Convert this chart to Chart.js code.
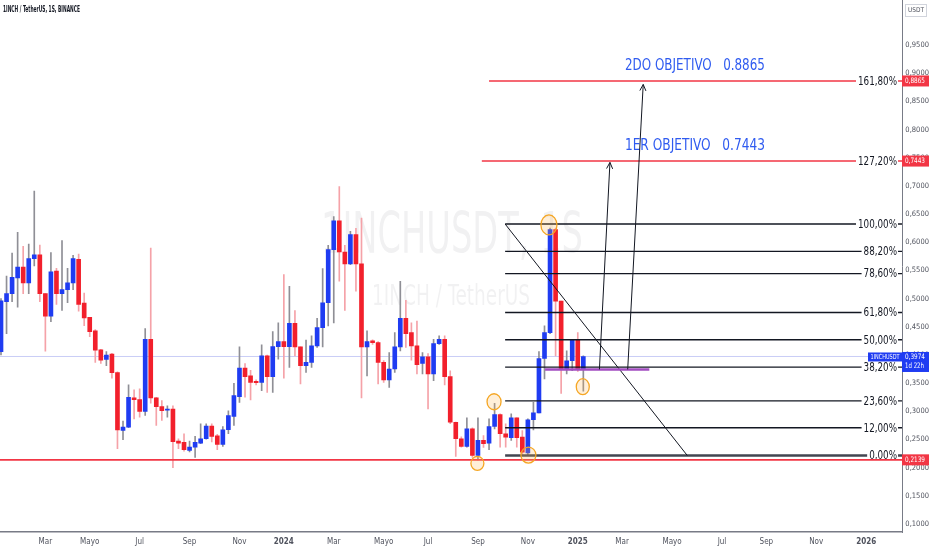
<!DOCTYPE html>
<html>
<head>
<meta charset="utf-8">
<title>1INCHUSDT 1S</title>
<script src="https://cdn.jsdelivr.net/npm/chart.js@4.4.1/dist/chart.umd.min.js"></script>
<style>
  html, body { margin: 0; padding: 0; background: #ffffff; }
  #myChart { display: block; }
</style>
</head>
<body>
<canvas id="myChart" width="932" height="550"></canvas>
<script>
// velas semanales 1INCH/USDT, primera vela: semana del 9 ene 2023
var openP = [0.406,0.4945,0.509,0.537,0.556,0.528,0.571,0.578,0.509,0.469,
  0.549,0.509,0.516,0.528,0.570,0.492,0.467,0.443,0.409,0.392,
  0.4016,0.369,0.266,0.272,0.324,0.321,0.300,0.428,0.324,0.3085,
  0.302,0.304,0.247,0.2449,0.2307,0.2366,0.2437,0.2514,0.2737,0.2567,
  0.2413,0.2673,0.2908,0.3261,0.377,0.363,0.3532,0.3514,0.3986,0.3615,
  0.415,0.4239,0.415,0.4563,0.4145,0.381,0.3868,0.4163,0.4486,0.4928,
  0.587,0.6383,0.5829,0.5617,0.6137,0.5617,0.4145,0.425,0.422,0.3868,
  0.3557,0.3751,0.4145,0.4652,0.4398,0.4163,0.385,0.3968,0.3663,0.4203,
  0.428,0.3615,0.2807,0.2514,0.2378,0.269,0.2219,0.2484,0.2437,0.2731,
  0.2943,0.2602,0.2531,0.2886,0.2543,0.226,0.285,0.2973,0.3938,0.4398,
  0.6226,0.4958,0.3751,0.3898,0.4263,0.3751];
var highP = [0.500,0.540,0.581,0.618,0.593,0.597,0.691,0.595,0.509,0.582,
  0.554,0.603,0.554,0.577,0.579,0.510,0.467,0.445,0.410,0.406,
  0.403,0.370,0.2825,0.347,0.338,0.340,0.447,0.590,0.325,0.319,
  0.3097,0.310,0.2514,0.260,0.247,0.2555,0.278,0.278,0.278,0.259,
  0.273,0.301,0.3497,0.4145,0.385,0.373,0.356,0.418,0.400,0.4415,
  0.457,0.543,0.522,0.479,0.4145,0.4263,0.434,0.465,0.5535,0.5947,
  0.6459,0.699,0.5947,0.6194,0.625,0.643,0.4428,0.427,0.4239,0.390,
  0.4045,0.4398,0.531,0.497,0.457,0.4604,0.4045,0.4027,0.428,0.434,
  0.434,0.372,0.281,0.2548,0.2886,0.2708,0.2886,0.257,0.2867,0.3143,
  0.2955,0.278,0.2955,0.2886,0.266,0.2867,0.316,0.406,0.4516,0.6253,
  0.6253,0.4958,0.4074,0.428,0.4398,0.3986];
var lowP = [0.400,0.438,0.4945,0.485,0.509,0.509,0.558,0.4945,0.407,0.459,
  0.490,0.479,0.493,0.516,0.478,0.452,0.4327,0.387,0.385,0.381,
  0.359,0.2337,0.2497,0.271,0.2867,0.2896,0.2926,0.3143,0.275,0.2837,
  0.2896,0.2002,0.2337,0.2295,0.2278,0.218,0.2425,0.2505,0.2455,0.232,
  0.2378,0.2602,0.275,0.316,0.325,0.3204,0.347,0.3367,0.3337,0.3337,
  0.3928,0.359,0.378,0.3986,0.3486,0.369,0.378,0.4133,0.4145,0.4516,
  0.457,0.531,0.479,0.5605,0.5134,0.324,0.363,0.419,0.3486,0.3514,
  0.3426,0.369,0.4074,0.4133,0.391,0.3663,0.3663,0.3044,0.3544,0.419,
  0.347,0.278,0.2201,0.2366,0.2366,0.218,0.2139,0.236,0.232,0.269,
  0.2366,0.2366,0.2484,0.2366,0.2237,0.2219,0.267,0.2973,0.3574,0.438,
  0.3986,0.332,0.3663,0.372,0.371,0.3356];
var closeP = [0.496,0.509,0.538,0.556,0.528,0.571,0.578,0.509,0.469,0.5475,
  0.509,0.516,0.528,0.571,0.490,0.466,0.4415,0.4087,0.391,0.400,
  0.3686,0.267,0.272,0.325,0.3205,0.300,0.428,0.324,0.3085,0.301,
  0.304,0.246,0.2437,0.232,0.2366,0.2449,0.2514,0.2737,0.2555,0.2413,
  0.2673,0.2926,0.328,0.377,0.3615,0.3514,0.351,0.3986,0.3615,0.415,
  0.4239,0.415,0.4563,0.4145,0.381,0.3868,0.4163,0.4486,0.4928,0.587,
  0.6383,0.5829,0.5617,0.6137,0.5617,0.4145,0.4239,0.422,0.3868,0.3557,
  0.3751,0.4145,0.4652,0.438,0.4163,0.3827,0.3968,0.3663,0.4203,0.428,
  0.3615,0.2807,0.2514,0.2378,0.269,0.2219,0.2484,0.2426,0.2731,0.2943,
  0.2602,0.2543,0.2886,0.2531,0.2277,0.285,0.2973,0.3938,0.4398,0.6226,
  0.4958,0.3751,0.3898,0.4263,0.3751,0.3974];

var firstWeek = Date.UTC(2023, 0, 9);
var monthTicks = [['Mar',2023,2],['Mayo',2023,4],['Jul',2023,6],['Sep',2023,8],['Nov',2023,10],
  ['2024',2024,0],['Mar',2024,2],['Mayo',2024,4],['Jul',2024,6],['Sep',2024,8],['Nov',2024,10],
  ['2025',2025,0],['Mar',2025,2],['Mayo',2025,4],['Jul',2025,6],['Sep',2025,8],['Nov',2025,10],
  ['2026',2026,0]];
var priceTicks = [0.10,0.15,0.20,0.25,0.30,0.35,0.40,0.45,0.50,0.55,0.60,0.65,0.70,0.75,0.80,0.85,0.90,0.95];

// fibonacci trazado por el autor
var fibLow = 0.2215, fibHigh = 0.6325;
var fibLevels = [0, 0.12, 0.236, 0.382, 0.5, 0.618, 0.786, 0.882, 1];
var fibTargets = [1.272, 1.618];
var targetNames = ['1ER OBJETIVO', '2DO OBJETIVO'];
var lastPrice = 0.3974, lowLine = 0.2139, supportLine = 0.3745;

var FONT = "'Liberation Sans Narrow', 'DejaVu Sans Condensed', 'Liberation Sans', sans-serif";
var BLUE = '#1f3cf2', RED = '#f2202c';

function weekOf(y, m) {
  // primera vela semanal dentro del mes
  return Math.ceil((Date.UTC(y, m, 1) - firstWeek) / (7 * 86400000));
}
function fibPrice(l) { return fibLow + l * (fibHigh - fibLow); }
function fmt(v) { return v.toFixed(4).replace('.', ','); }

var wickData = [], bodyData = [], wickColors = [], bodyColors = [];
for (var i = 0; i < openP.length; i++) {
  var up = closeP[i] >= openP[i];
  wickData.push({x: i, y: [lowP[i], highP[i]]});
  bodyData.push({x: i, y: [openP[i], closeP[i]]});
  wickColors.push(up ? '#8f8f96' : '#f5a2a8');
  bodyColors.push(up ? BLUE : RED);
}

function squeezeText(ctx, txt, x, y, size, color, align, width, weight) {
  ctx.save();
  ctx.font = (weight || 'normal') + ' ' + size + 'px ' + FONT;
  var w = ctx.measureText(txt).width;
  var s = width ? width / w : 1;
  ctx.translate(x, y);
  ctx.scale(s, 1);
  ctx.fillStyle = color;
  ctx.textAlign = align;
  ctx.textBaseline = 'middle';
  ctx.fillText(txt, 0, 0);
  ctx.restore();
  return w * s;
}

function line(ctx, x1, y1, x2, y2, color, lw) {
  ctx.save();
  ctx.strokeStyle = color;
  ctx.lineWidth = lw;
  ctx.beginPath();
  ctx.moveTo(x1, y1);
  ctx.lineTo(x2, y2);
  ctx.stroke();
  ctx.restore();
}

function arrow(ctx, x1, y1, x2, y2) {
  line(ctx, x1, y1, x2, y2, '#131722', 1);
  var a = Math.atan2(y2 - y1, x2 - x1);
  for (var k = -1; k <= 1; k += 2) {
    var b = a + Math.PI + k * 0.45;
    line(ctx, x2, y2, x2 + 7 * Math.cos(b), y2 + 7 * Math.sin(b), '#131722', 1);
  }
}

var overlay = {
  id: 'overlay',
  beforeDatasetsDraw: function (chart) {
    var ctx = chart.ctx, a = chart.chartArea;
    var cx = (a.left + a.right) / 2;
    squeezeText(ctx, '1INCHUSDT, 1S', cx + 1, a.top + 238, 57, 'rgba(20,22,34,0.06)', 'center', 262);
    squeezeText(ctx, '1INCH / TetherUS', cx, a.top + 298, 28, 'rgba(20,22,34,0.06)', 'center', 158);
    var yl = chart.scales.y.getPixelForValue(lastPrice);
    line(ctx, a.left, yl, a.right, yl, '#c9cdf6', 1);
  },
  afterDatasetsDraw: function (chart) {
    var ctx = chart.ctx, a = chart.chartArea;
    var X = function (v) { return chart.scales.x.getPixelForValue(v); };
    var Y = function (v) { return chart.scales.y.getPixelForValue(v); };

    // lineas del fibonacci
    ctx.save();
    ctx.font = '13px ' + FONT;
    var squeeze = 39 / ctx.measureText('100,00%').width;
    ctx.restore();
    fibLevels.forEach(function (l) {
      var y = Y(fibPrice(l));
      if (l === 0) line(ctx, X(90.9), y, a.right, y, '#434651', 2.5);
      else line(ctx, X(90.9), y, a.right, y, '#131722', 1.4);
    });
    // diagonal del fibonacci
    line(ctx, X(90.9), Y(fibHigh), X(123.75), Y(fibLow), '#131722', 1);

    // objetivos
    var starts = [86.7, 88.0];
    fibTargets.forEach(function (l, k) {
      var v = fibPrice(l), y = Y(v);
      line(ctx, X(starts[k]), y, a.right, y, '#f23645', 1.4);
      squeezeText(ctx, targetNames[k] + '   ' + v.toFixed(4), X(112.5), y - 15, 16.5, '#2f5bf0', 'left', 140);
    });

    // etiquetas de niveles
    fibLevels.concat(fibTargets).forEach(function (l) {
      var y = Y(fibPrice(l));
      var txt = (l * 100).toFixed(2).replace('.', ',') + '%';
      ctx.save();
      ctx.font = '13px ' + FONT;
      var w = ctx.measureText(txt).width * squeeze;
      ctx.fillStyle = '#ffffff';
      ctx.fillRect(a.right - 5 - w - 2, y - 7, w + 3, 14);
      ctx.restore();
      squeezeText(ctx, txt, a.right - 5, y + 0.5, 13, '#131722', 'right', w);
    });

    // soporte morado
    line(ctx, X(98.1), Y(supportLine), X(116.9), Y(supportLine), '#a24cc0', 2.5);

    // minimo
    line(ctx, a.left, Y(lowLine), a.right, Y(lowLine), '#f23645', 1.6);

    // flechas
    arrow(ctx, X(107.9), Y(supportLine), X(109.8), Y(0.7419));
    arrow(ctx, X(113.0), Y(supportLine), X(115.8), Y(0.8803));

    // circulos
    var circles = [[98.8, 0.6310, 8, 10], [104.9, 0.3437, 6.5, 8], [88.9, 0.3170, 7, 8],
      [85.9, 0.2077, 6.5, 7], [95.1, 0.2224, 7.5, 8]];
    circles.forEach(function (c) {
      ctx.save();
      ctx.beginPath();
      ctx.ellipse(X(c[0]), Y(c[1]), c[2], c[3], 0, 0, Math.PI * 2);
      ctx.fillStyle = 'rgba(255,183,77,0.22)';
      ctx.fill();
      ctx.strokeStyle = '#f5a623';
      ctx.lineWidth = 1.3;
      ctx.stroke();
      ctx.restore();
    });
  },
  afterDraw: function (chart) {
    var ctx = chart.ctx, a = chart.chartArea;
    var Y = function (v) { return chart.scales.y.getPixelForValue(v); };
    squeezeText(ctx, '1INCH / TetherUS, 1S, BINANCE', 3, 10, 8, '#131722', 'left', 77, 'bold');

    // caja USDT
    ctx.save();
    ctx.strokeStyle = '#d1d4dc';
    ctx.lineWidth = 1;
    ctx.strokeRect(a.right + 3.5, 4.5, 21, 12);
    ctx.restore();
    squeezeText(ctx, 'USDT', a.right + 14, 10.5, 6.5, '#50535e', 'center');

    // etiquetas de precio en el eje
    var redTags = [fibPrice(fibTargets[1]), fibPrice(fibTargets[0]), lowLine];
    redTags.forEach(function (v) {
      var y = Y(v);
      ctx.fillStyle = '#f23645';
      ctx.fillRect(a.right, y - 5.5, 27, 11);
      squeezeText(ctx, fmt(v), a.right + 3, y, 7.5, '#ffffff', 'left', 20);
    });
    var yl = Y(lastPrice);
    ctx.fillStyle = BLUE;
    ctx.fillRect(a.right - 34, yl - 4, 34, 9);
    ctx.fillRect(a.right, yl - 4.5, 27, 20);
    squeezeText(ctx, '1INCHUSDT', a.right - 17, yl + 0.5, 7, '#ffffff', 'center', 29);
    squeezeText(ctx, fmt(lastPrice), a.right + 3, yl + 1, 7.5, '#ffffff', 'left', 20);
    squeezeText(ctx, '1d 22h', a.right + 3, yl + 10, 7.5, '#ffffff', 'left', 19);
  }
};

var ctx = document.getElementById('myChart').getContext('2d');
var myChart = new Chart(ctx, {
  type: 'bar',
  data: {
    datasets: [{
      label: 'mecha',
      data: wickData,
      backgroundColor: wickColors,
      barThickness: 1,
      grouped: false,
      order: 2
    }, {
      label: '1INCHUSDT',
      data: bodyData,
      backgroundColor: bodyColors,
      barThickness: 4,
      grouped: false,
      order: 1
    }]
  },
  options: {
    responsive: false,
    animation: false,
    layout: { padding: 0 },
    plugins: { legend: { display: false }, tooltip: { enabled: false } },
    scales: {
      x: {
        type: 'linear',
        min: -0.18,
        max: 162.46,
        offset: false,
        grid: { display: false, drawTicks: false, offset: false },
        border: { display: true, color: '#787b86', width: 1.5 },
        afterBuildTicks: function (scale) {
          scale.ticks = monthTicks.map(function (t) { return {value: weekOf(t[1], t[2])}; });
        },
        afterFit: function (scale) { scale.height = 18; },
        ticks: {
          autoSkip: false,
          maxRotation: 0,
          padding: 5,
          color: '#50535e',
          font: function (c) {
            var t = monthTicks[c.index];
            var year = t && /^\d{4}$/.test(t[0]);
            return {family: FONT, size: 8, weight: year ? 'bold' : 'normal'};
          },
          callback: function (v, i) { return monthTicks[i] ? monthTicks[i][0] : ''; }
        }
      },
      y: {
        position: 'right',
        min: 0.0858,
        max: 1.0299,
        grid: { display: false, drawTicks: false },
        border: { display: true, color: '#787b86', width: 1 },
        afterBuildTicks: function (scale) {
          scale.ticks = priceTicks.map(function (v) { return {value: v}; });
        },
        afterFit: function (scale) { scale.width = 30; },
        ticks: {
          padding: 0,
          color: '#50535e',
          // lineHeight minimo para que la escala no reserve margen arriba
          font: {family: FONT, size: 7.5, lineHeight: 0.05},
          callback: function (v) { return '\u2002' + fmt(v); }
        }
      }
    }
  },
  plugins: [overlay]
});
</script>
</body>
</html>
